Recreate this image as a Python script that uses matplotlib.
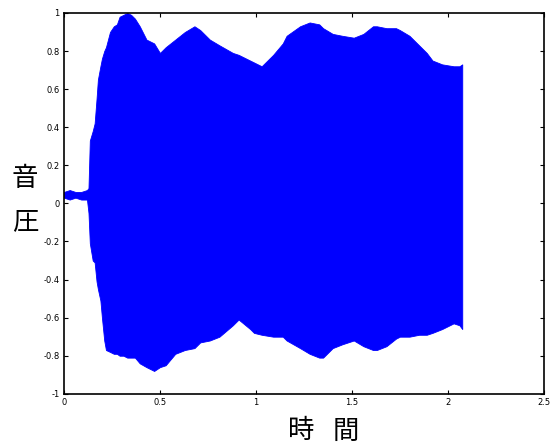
import matplotlib
matplotlib.use("Agg")
import matplotlib.pyplot as plt

# envelope of the waveform (time in s, pressure)
t = [0.0, 0.03, 0.06, 0.09, 0.12, 0.128, 0.135, 0.15, 0.16, 0.17, 0.177, 0.19, 0.198,
     0.21, 0.219, 0.24, 0.26, 0.276, 0.29, 0.31, 0.33, 0.35, 0.37, 0.395, 0.43,
     0.47, 0.5, 0.53, 0.58, 0.63, 0.68, 0.71, 0.76, 0.81, 0.88, 0.91, 0.97, 0.99,
     1.03, 1.09, 1.14, 1.16, 1.23, 1.28, 1.33, 1.35, 1.40, 1.45, 1.51, 1.56, 1.61,
     1.63, 1.68, 1.73, 1.75, 1.80, 1.85, 1.89, 1.92, 1.97, 2.03, 2.06, 2.075]
upper = [0.06, 0.07, 0.06, 0.06, 0.07, 0.08, 0.33, 0.38, 0.42, 0.55, 0.65, 0.72, 0.76,
         0.80, 0.82, 0.90, 0.93, 0.94, 0.98, 0.99, 1.0, 0.99, 0.97, 0.93, 0.86,
         0.84, 0.79, 0.82, 0.86, 0.90, 0.93, 0.91, 0.86, 0.83, 0.79, 0.78, 0.75, 0.74,
         0.72, 0.78, 0.84, 0.88, 0.93, 0.95, 0.94, 0.92, 0.89, 0.88, 0.87, 0.89, 0.93,
         0.93, 0.92, 0.92, 0.91, 0.88, 0.83, 0.79, 0.75, 0.73, 0.72, 0.72, 0.73]
lower = [0.03, 0.02, 0.03, 0.02, 0.02, -0.05, -0.21, -0.30, -0.31, -0.41, -0.45, -0.51, -0.60,
         -0.72, -0.77, -0.78, -0.79, -0.79, -0.80, -0.80, -0.81, -0.81, -0.81, -0.84, -0.86,
         -0.88, -0.86, -0.85, -0.79, -0.77, -0.76, -0.73, -0.72, -0.70, -0.64, -0.61, -0.66, -0.68,
         -0.69, -0.70, -0.70, -0.72, -0.76, -0.79, -0.81, -0.81, -0.76, -0.74, -0.72, -0.75, -0.77,
         -0.77, -0.75, -0.71, -0.70, -0.70, -0.69, -0.69, -0.68, -0.66, -0.63, -0.64, -0.66]

xticks = [0, 0.5, 1, 1.5, 2, 2.5]
yticks = [-1, -0.8, -0.6, -0.4, -0.2, 0, 0.2, 0.4, 0.6, 0.8, 1]

fig = plt.figure(figsize=(5.51, 4.46), dpi=100)
ax = fig.add_axes([0.116, 0.117, 0.871, 0.854])

ax.fill_between(t, lower, upper, color="#0000ff", linewidth=0.6, edgecolor="#0000ff")

ax.set_xlim(0, 2.5)
ax.set_ylim(-1, 1)
ax.set_xticks(xticks)
ax.set_xticklabels(["0", "0.5", "1", "1.5", "2", "2.5"])
ax.set_yticks(yticks)
ax.set_yticklabels(["-1", "-0.8", "-0.6", "-0.4", "-0.2", "0", "0.2", "0.4", "0.6", "0.8", "1"])
ax.tick_params(direction="in", top=True, right=True, length=3, width=0.8,
               labelsize=6, pad=3, colors="black")
for s in ax.spines.values():
    s.set_linewidth(1.2)

cjk = ["Noto Sans CJK JP", "DejaVu Sans"]
# x label: two characters with a wide gap
fig.text(301 / 551, 1 - 431 / 446, "時", family=cjk, fontsize=19,
         ha="center", va="center")
fig.text(346 / 551, 1 - 431 / 446, "間", family=cjk, fontsize=19,
         ha="center", va="center")
# y label: stacked characters
fig.text(25 / 551, 1 - 179 / 446, "音", family=cjk, fontsize=19,
         ha="center", va="center")
fig.text(25 / 551, 1 - 222 / 446, "圧", family=cjk, fontsize=19,
         ha="center", va="center")

fig.savefig("out.png", dpi=100)
